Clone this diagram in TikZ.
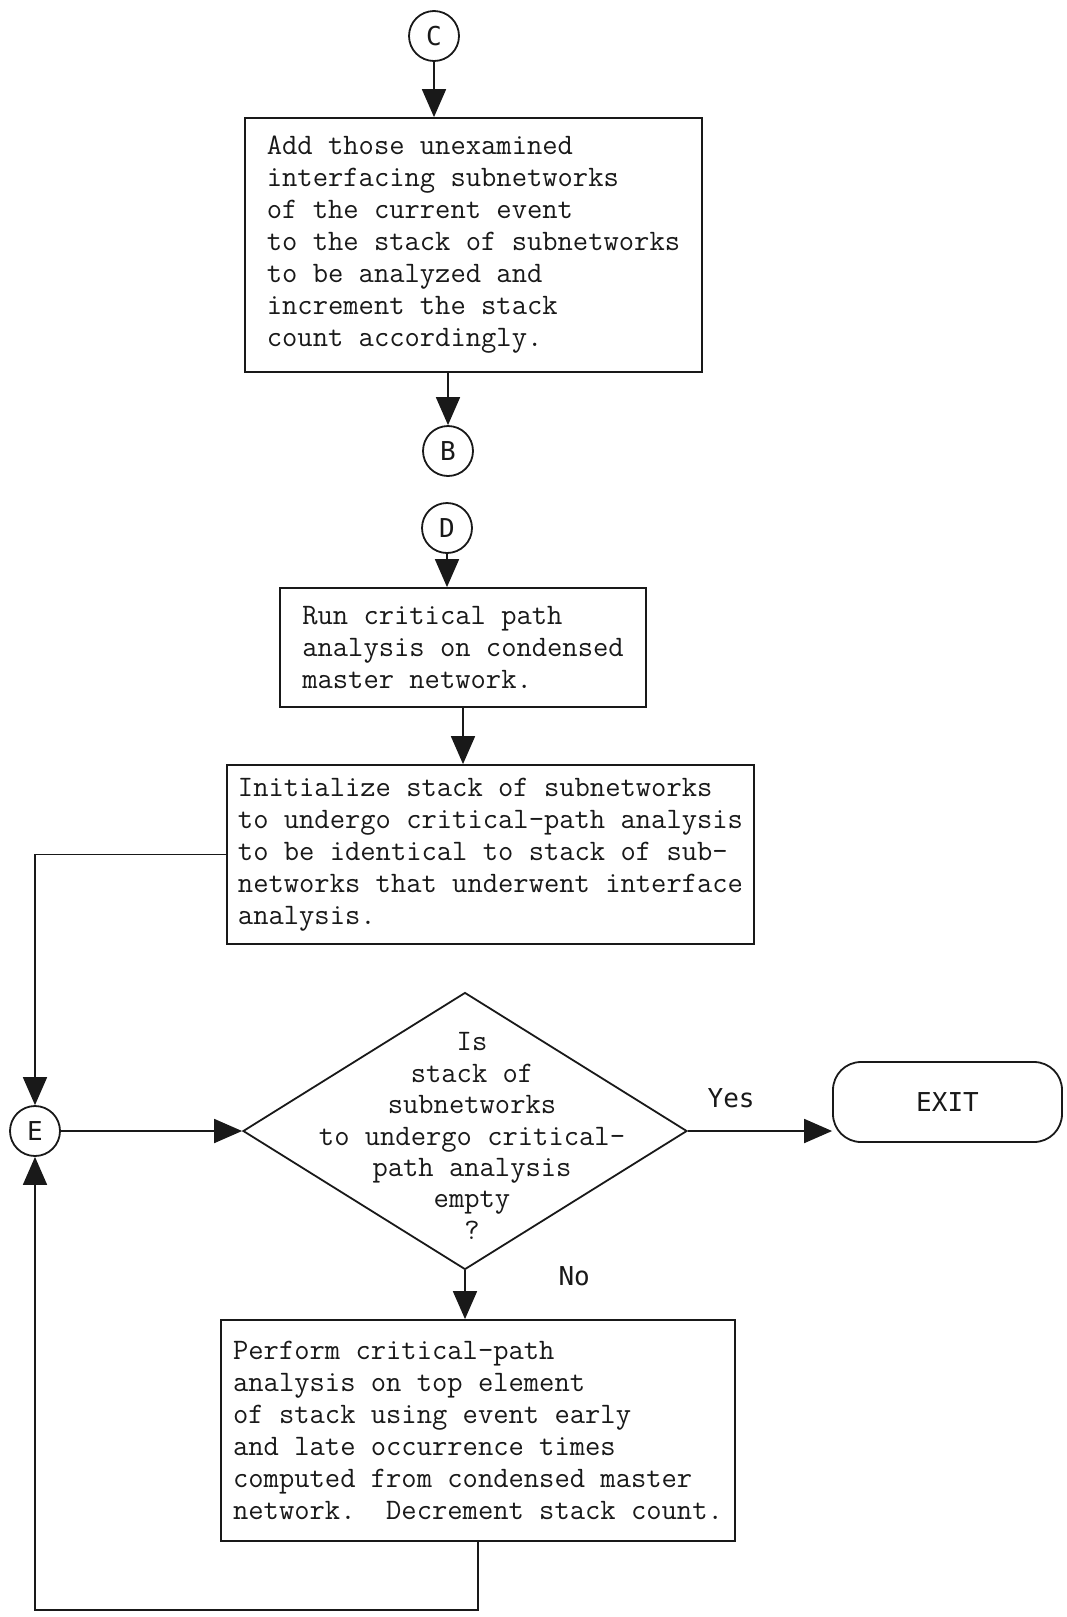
\documentclass[tikz,border=0pt]{standalone}
\usepackage{fontspec}
\usetikzlibrary{arrows.meta,shapes.geometric,positioning}
\newfontfamily\typefont{Latin Modern Mono}
\newfontfamily\gothfont{DejaVu Sans Mono}
\colorlet{chartInk}{black!90}

\begin{document}
\begin{tikzpicture}[x=0.5pt,y=-0.5pt, line width=0.9pt, chartInk,
    proc/.style={draw, rectangle, align=left, inner sep=0pt,
        font={\typefont\fontsize{14.86}{16}\selectfont}},
    conn/.style={draw, circle, minimum size=25pt, inner sep=0pt,
        font={\gothfont\fontsize{13}{16}\selectfont}},
    lbl/.style={font={\gothfont\fontsize{13}{16}\selectfont}},
    arr/.style={-{Triangle[width=12pt,length=14pt]}}]
        \useasboundingbox (0,0) rectangle (1066,1617);
        \node[conn] (C) at (434,36) {C};
        \node[proc, minimum width=228.5pt, minimum height=127pt]
              (add) at (473.5,245)
              {Add those unexamined\\interfacing subnetworks\\of the current event\\
               to the stack of subnetworks\\to be analyzed and\\increment the stack\\
               count accordingly.};
        \node[conn] (B) at (448,451) {B};
        \node[conn] (D) at (447,528) {D};
        \node[proc, minimum width=183pt, minimum height=59.5pt]
              (run) at (463,647.5)
              {Run critical path\\analysis on condensed\\master network.};
        \node[proc, minimum width=263.5pt, minimum height=89.5pt]
              (init) at (490.5,854.5)
              {Initialize stack of subnetworks\\to undergo critical-path analysis\\
               to be identical to stack of sub-\\networks that underwent interface\\
               analysis.};
        \node[conn] (E) at (35,1131) {E};
        \node[draw, diamond, minimum width=222pt, minimum height=138.5pt,
              inner sep=0pt] (dec) at (465,1131) {};
        \node[align=center, inner sep=0pt,
              font={\typefont\fontsize{14.86}{15.7}\selectfont}]
              (dectxt) at (472,1136)
              {Is\\stack of\\subnetworks\\to undergo critical-\\path analysis\\empty\\?};
        \node[draw, rectangle, rounded corners=14pt, minimum width=114.5pt,
              minimum height=40pt, lbl] (exit) at (947.5,1102) {EXIT};
        \node[lbl, anchor=west] (no) at ([xshift=43pt,yshift=-3pt]dec.south) {No};
        \node[proc, minimum width=257pt, minimum height=110.5pt]
              (perf) at (478,1430.5)
              {Perform critical-path\\analysis on top element\\of stack using event early\\
               and late occurrence times\\computed from condensed master\\
               network.\ \ Decrement stack count.};
        \coordinate (back) at (35,1610);
        \draw[arr] (C.south) -- (C.south |- add.north);
        \draw[arr] (add.south -| B) -- (B.north);
        \draw[arr] (D.south) -- (D.south |- run.north);
        \draw[arr] (run.south) -- (run.south |- init.north);
        \draw[arr] (init.west) -| (E.north);
        \draw[arr] (E.east) -- (dec.west);
        \draw[arr] (dec.east) -- (dec.east -| exit.west)
              node[lbl, pos=0.3, above=8pt] (yes) {Yes};
        \draw[arr] (dec.south) -- (dec.south |- perf.north);
        \draw[arr] (perf.south) |- (back) -- (E.south);
      \end{tikzpicture}
\end{document}
